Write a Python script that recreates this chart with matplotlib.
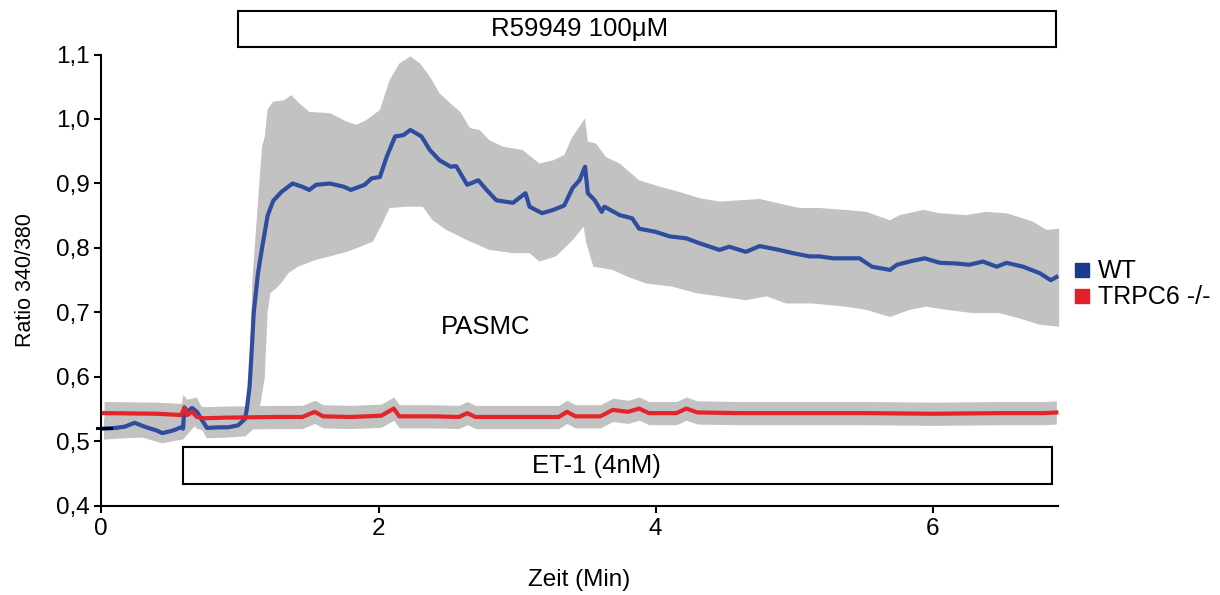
import numpy as np
import matplotlib.pyplot as plt
from matplotlib.patches import Rectangle
from matplotlib.lines import Line2D

plt.rcParams['font.family'] = ['Liberation Sans', 'DejaVu Sans']

# WT mean trace (minutes, ratio 340/380)
wt_t = [0.02, 0.10, 0.17, 0.24, 0.30, 0.34, 0.40, 0.44, 0.50, 0.53, 0.575, 0.59, 0.60, 0.62, 0.655,
        0.69, 0.727, 0.763, 0.85, 0.914, 0.986, 1.037, 1.05, 1.07, 1.085, 1.10, 1.13, 1.16, 1.20,
        1.24, 1.30, 1.38, 1.45, 1.50, 1.55, 1.65, 1.75, 1.80, 1.90, 1.95, 2.01, 2.06, 2.12, 2.18,
        2.23, 2.31, 2.37, 2.44, 2.52, 2.56, 2.64, 2.72, 2.78, 2.85, 2.97, 3.06, 3.09, 3.18, 3.26,
        3.34, 3.40, 3.45, 3.49, 3.51, 3.56, 3.61, 3.63, 3.74, 3.83, 3.88, 4.00, 4.10, 4.22, 4.32,
        4.46, 4.53, 4.65, 4.75, 4.89, 4.99, 5.11, 5.18, 5.28, 5.47, 5.56, 5.69, 5.74, 5.85, 5.94,
        6.05, 6.17, 6.26, 6.36, 6.46, 6.53, 6.65, 6.77, 6.85, 6.89]
wt_y = [0.520, 0.521, 0.523, 0.529, 0.524, 0.521, 0.517, 0.513, 0.516, 0.518, 0.522, 0.520, 0.553,
        0.546, 0.552, 0.546, 0.533, 0.521, 0.522, 0.522, 0.525, 0.535, 0.550, 0.585, 0.640, 0.700,
        0.760, 0.800, 0.850, 0.873, 0.887, 0.900, 0.895, 0.890, 0.898, 0.900, 0.895, 0.890, 0.898,
        0.908, 0.910, 0.942, 0.973, 0.975, 0.983, 0.973, 0.952, 0.936, 0.926, 0.927, 0.898, 0.905,
        0.890, 0.874, 0.870, 0.885, 0.864, 0.854, 0.859, 0.866, 0.893, 0.905, 0.926, 0.885, 0.874,
        0.856, 0.864, 0.851, 0.846, 0.830, 0.825, 0.818, 0.815, 0.807, 0.797, 0.802, 0.794, 0.803,
        0.797, 0.792, 0.787, 0.787, 0.784, 0.784, 0.771, 0.766, 0.774, 0.780, 0.784, 0.777, 0.776,
        0.774, 0.779, 0.771, 0.777, 0.771, 0.761, 0.750, 0.755]

# WT error band, upper and lower edge
wt_up_t = [0.02, 0.30, 0.44, 0.575, 0.59, 0.62, 0.69, 0.763, 0.986, 1.04, 1.07, 1.09, 1.11, 1.14,
           1.16, 1.18, 1.20, 1.24, 1.32, 1.37, 1.43, 1.50, 1.65, 1.77, 1.84, 1.91, 2.01, 2.08, 2.15,
           2.23, 2.30, 2.37, 2.44, 2.52, 2.59, 2.66, 2.73, 2.80, 2.90, 3.04, 3.16, 3.26, 3.34, 3.40,
           3.45, 3.49, 3.51, 3.57, 3.64, 3.74, 3.88, 4.03, 4.17, 4.32, 4.46, 4.61, 4.75, 4.89, 5.04,
           5.18, 5.37, 5.52, 5.69, 5.76, 5.93, 6.05, 6.24, 6.38, 6.53, 6.72, 6.82, 6.91]
wt_up_y = [0.536, 0.541, 0.530, 0.538, 0.572, 0.565, 0.568, 0.537, 0.540, 0.552, 0.60, 0.75, 0.81,
           0.90, 0.957, 0.973, 1.015, 1.027, 1.029, 1.037, 1.024, 1.011, 1.009, 0.996, 0.991, 0.998,
           1.014, 1.060, 1.086, 1.097, 1.086, 1.066, 1.040, 1.024, 1.011, 0.986, 0.983, 0.967, 0.957,
           0.952, 0.931, 0.936, 0.944, 0.973, 0.988, 1.001, 0.965, 0.962, 0.941, 0.931, 0.905, 0.895,
           0.887, 0.877, 0.872, 0.874, 0.876, 0.869, 0.862, 0.862, 0.859, 0.856, 0.843, 0.851, 0.859,
           0.854, 0.851, 0.856, 0.854, 0.841, 0.828, 0.830]
wt_lo_t = [0.02, 0.17, 0.30, 0.44, 0.53, 0.59, 0.70, 0.76, 0.90, 1.04, 1.10, 1.15, 1.18, 1.20, 1.22,
           1.26, 1.30, 1.35, 1.42, 1.54, 1.65, 1.77, 1.87, 1.96, 2.03, 2.08, 2.20, 2.32, 2.39, 2.49,
           2.64, 2.80, 2.97, 3.09, 3.16, 3.28, 3.40, 3.48, 3.50, 3.55, 3.69, 3.79, 3.93, 4.12, 4.29,
           4.46, 4.65, 4.80, 4.94, 5.13, 5.37, 5.52, 5.69, 5.83, 5.95, 6.10, 6.29, 6.48, 6.62, 6.77,
           6.91]
wt_lo_y = [0.503, 0.505, 0.506, 0.497, 0.501, 0.503, 0.53, 0.505, 0.506, 0.508, 0.52, 0.56, 0.60,
           0.70, 0.73, 0.737, 0.746, 0.761, 0.771, 0.781, 0.787, 0.794, 0.802, 0.810, 0.839, 0.862,
           0.864, 0.864, 0.843, 0.828, 0.812, 0.797, 0.792, 0.792, 0.779, 0.787, 0.812, 0.833, 0.807,
           0.771, 0.766, 0.756, 0.745, 0.740, 0.730, 0.725, 0.719, 0.725, 0.714, 0.714, 0.709, 0.704,
           0.693, 0.704, 0.709, 0.704, 0.699, 0.699, 0.691, 0.681, 0.678]

# TRPC6 -/- mean trace
ko_t = [0.02, 0.40, 0.575, 0.60, 0.62, 0.655, 0.69, 0.74, 0.90, 1.25, 1.45, 1.54, 1.60, 1.80, 2.02,
        2.11, 2.15, 2.40, 2.58, 2.64, 2.70, 3.00, 3.30, 3.36, 3.42, 3.60, 3.69, 3.80, 3.88, 3.95,
        4.15, 4.22, 4.30, 4.60, 5.00, 5.50, 6.00, 6.50, 6.80, 6.89]
ko_y = [0.544, 0.543, 0.541, 0.552, 0.541, 0.546, 0.538, 0.536, 0.537, 0.538, 0.538, 0.546, 0.539,
        0.538, 0.540, 0.551, 0.539, 0.539, 0.538, 0.544, 0.538, 0.538, 0.538, 0.546, 0.539, 0.539,
        0.549, 0.546, 0.551, 0.544, 0.544, 0.551, 0.545, 0.544, 0.544, 0.544, 0.543, 0.544, 0.544,
        0.545]
ko_sem = 0.018

yticks = [0.4, 0.5, 0.6, 0.7, 0.8, 0.9, 1.0, 1.1]
xticks = [0, 2, 4, 6]

fig = plt.figure(figsize=(12.2, 5.95), dpi=100)
ax = fig.add_axes([0.083, 0.1496, 0.784, 0.7588])

grey = '#c2c2c2'
ko_t_arr = np.array(ko_t)
ko_y_arr = np.array(ko_y)
ax.fill_between(ko_t_arr, ko_y_arr - ko_sem, ko_y_arr + ko_sem, color=grey, lw=0, clip_on=False)
ax.fill(np.concatenate([wt_up_t, wt_lo_t[::-1]]), np.concatenate([wt_up_y, wt_lo_y[::-1]]),
        color=grey, lw=0, clip_on=False)

ax.plot(wt_t, wt_y, color='#2f4d9f', lw=3.0, clip_on=False)
ax.plot(ko_t, ko_y, color='#e4242b', lw=3.0, clip_on=False)
ax.plot([-0.03, 0.07], [0.521, 0.521], color='black', lw=2.2, clip_on=False)

# application bars
ax.add_patch(Rectangle((0.986, 1.112), 5.904, 0.055, fc='white', ec='black', lw=1.5, clip_on=False))
ax.text(3.45, 1.139, 'R59949 100\u03bcM', ha='center', va='center', fontsize=18.5)
ax.add_patch(Rectangle((0.59, 0.434), 6.27, 0.0575, fc='white', ec='black', lw=1.5, clip_on=False))
ax.text(3.57, 0.462, 'ET-1 (4nM)', ha='center', va='center', fontsize=18.5)
ax.text(2.77, 0.677, 'PASMC', ha='center', va='center', fontsize=18.5)

ax.set_xlim(0, 6.9)
ax.set_ylim(0.4, 1.1)
ax.set_xticks(xticks)
ax.set_xticklabels([str(v) for v in xticks])
ax.set_yticks(yticks)
ax.set_yticklabels([f'{v:.1f}'.replace('.', ',') for v in yticks])
ax.tick_params(direction='out', length=5, width=1.5, labelsize=17.5)
ax.spines['top'].set_visible(False)
ax.spines['right'].set_visible(False)
for s in ('left', 'bottom'):
    ax.spines[s].set_linewidth(1.5)

ax.set_xlabel('Zeit (Min)', fontsize=17.5, labelpad=21)
ax.set_ylabel('Ratio 340/380', fontsize=15.5, labelpad=14)

handles = [Line2D([], [], marker='s', ls='', color='#1a3a8f', markersize=9.5),
           Line2D([], [], marker='s', ls='', color='#e3202a', markersize=9.5)]
fig.legend(handles, ['WT', 'TRPC6 -/-'], loc='center left', bbox_to_anchor=(0.866, 0.522),
           frameon=False, fontsize=18, handletextpad=0.15, labelspacing=0.08, handlelength=1.0,
           borderpad=0)

fig.savefig('out.png', dpi=100)
